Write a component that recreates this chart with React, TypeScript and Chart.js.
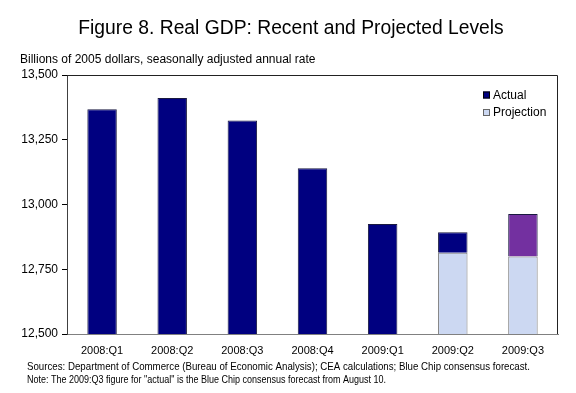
import React, { useEffect, useRef } from "react";
import { Chart, registerables } from "chart.js";

Chart.register(...registerables);

const categories = ["2008:Q1", "2008:Q2", "2008:Q3", "2008:Q4", "2009:Q1", "2009:Q2", "2009:Q3"];
const actual = [13368, 13411, 13324, 13140, 12925, 12893, 12963];
const projection: (number | null)[] = [null, null, null, null, null, 12814, 12799];
const actualIsForecast = [false, false, false, false, false, false, true];
const yMin = 12500;
const yMax = 13500;
const yStep = 250;

const titleText = "Figure 8. Real GDP: Recent and Projected Levels";
const subtitleText = "Billions of 2005 dollars, seasonally adjusted annual rate";
const noteLines = [
  "Sources: Department of Commerce (Bureau of Economic Analysis); CEA calculations; Blue Chip consensus forecast.",
  'Note: The 2009:Q3 figure for "actual" is the Blue Chip consensus forecast from August 10.',
];

const NAVY = "#000080";
const PURPLE = "#7330A0";
const LIGHT = "#CCD8F2";
const FONT = "Arial, 'Liberation Sans', sans-serif";

function fitText(ctx: CanvasRenderingContext2D, text: string, x: number, y: number, width: number) {
  const w = ctx.measureText(text).width;
  ctx.save();
  ctx.translate(x, y);
  ctx.scale(width / w, 1);
  ctx.fillText(text, 0, 0);
  ctx.restore();
}

const decorPlugin = {
  id: "decor",
  beforeDatasetsDraw(chart: any) {
    const { ctx } = chart;
    ctx.save();
    ctx.fillStyle = "#000";
    ctx.textBaseline = "middle";
    ctx.font = `19.3px ${FONT}`;
    ctx.textAlign = "center";
    ctx.fillText(titleText, 291, 29, 428);
    ctx.font = `12px ${FONT}`;
    ctx.textAlign = "left";
    ctx.fillText(subtitleText, 20, 60, 320);
    ctx.font = `11px ${FONT}`;
    fitText(ctx, noteLines[0], 27, 367, 503);
    fitText(ctx, noteLines[1], 27, 379.5, 359);
    ctx.restore();
  },
  afterDatasetsDraw(chart: any) {
    const { ctx, chartArea } = chart;
    ctx.save();
    ctx.strokeStyle = "#222";
    ctx.lineWidth = 1;
    ctx.beginPath();
    ctx.moveTo(chartArea.left, chartArea.top + 0.5);
    ctx.lineTo(chartArea.right - 0.5, chartArea.top + 0.5);
    ctx.lineTo(chartArea.right - 0.5, chartArea.bottom);
    ctx.stroke();
    const items = [
      { label: "Actual", fill: NAVY, stroke: "#000" },
      { label: "Projection", fill: LIGHT, stroke: "#666" },
    ];
    ctx.font = `12px ${FONT}`;
    ctx.textBaseline = "middle";
    ctx.textAlign = "left";
    items.forEach((it, i) => {
      const y = 95 + i * 17.5;
      ctx.fillStyle = it.fill;
      ctx.fillRect(483, y - 3.5, 7, 7);
      ctx.strokeStyle = it.stroke;
      ctx.strokeRect(483.5, y - 3, 6, 6);
      ctx.fillStyle = "#000";
      ctx.fillText(it.label, 493, y + 0.5);
    });
    ctx.restore();
  },
};

export default function App() {
  const ref = useRef<HTMLCanvasElement>(null);
  useEffect(() => {
    if (!ref.current) return;
    const chart = new Chart(ref.current, {
      type: "bar",
      data: {
        labels: categories,
        datasets: [
          {
            label: "Projection",
            data: projection.map((v) => (v == null ? null : [yMin, v])) as any,
            backgroundColor: LIGHT,
            borderColor: "#7a7a7a",
            borderWidth: 1,
            borderSkipped: "bottom",
            grouped: false,
            barPercentage: 0.42,
            categoryPercentage: 1,
          },
          {
            label: "Actual",
            data: categories.map((_, i) => [projection[i] ?? yMin, actual[i]]) as any,
            backgroundColor: actualIsForecast.map((f) => (f ? PURPLE : NAVY)),
            borderColor: "#1a1a40",
            borderWidth: 1,
            borderSkipped: "bottom",
            grouped: false,
            barPercentage: 0.42,
            categoryPercentage: 1,
          },
        ],
      },
      options: {
        animation: false,
        responsive: false,
        maintainAspectRatio: false,
        layout: { padding: { top: 75, right: 18, bottom: 0, left: 0 } },
        plugins: {
          legend: { display: false },
          title: { display: false },
          tooltip: { enabled: false },
        },
        scales: {
          x: {
            grid: { display: false, drawTicks: false },
            border: { display: true, color: "#808080" },
            ticks: {
              color: "#000",
              padding: 10,
              font: { family: FONT, size: 11 },
            },
            afterFit: (s: any) => {
              s.height = 59;
            },
          },
          y: {
            min: yMin,
            max: yMax,
            ticks: {
              stepSize: yStep,
              color: "#000",
              padding: 4,
              font: { family: FONT, size: 12 },
              callback: (v: any) => Number(v).toLocaleString("en-US"),
            },
            grid: { drawOnChartArea: false, drawTicks: true, tickLength: 5, color: "#000" },
            border: { display: true, color: "#404040" },
            afterFit: (s: any) => {
              s.width = 67;
            },
          },
        },
      },
      plugins: [decorPlugin],
    });
    return () => chart.destroy();
  }, []);
  return (
    <div style={{ position: "absolute", left: 0, top: 0, width: 576, height: 393, background: "#fff" }}>
      <canvas ref={ref} width={576} height={393} style={{ width: 576, height: 393 }} />
    </div>
  );
}
